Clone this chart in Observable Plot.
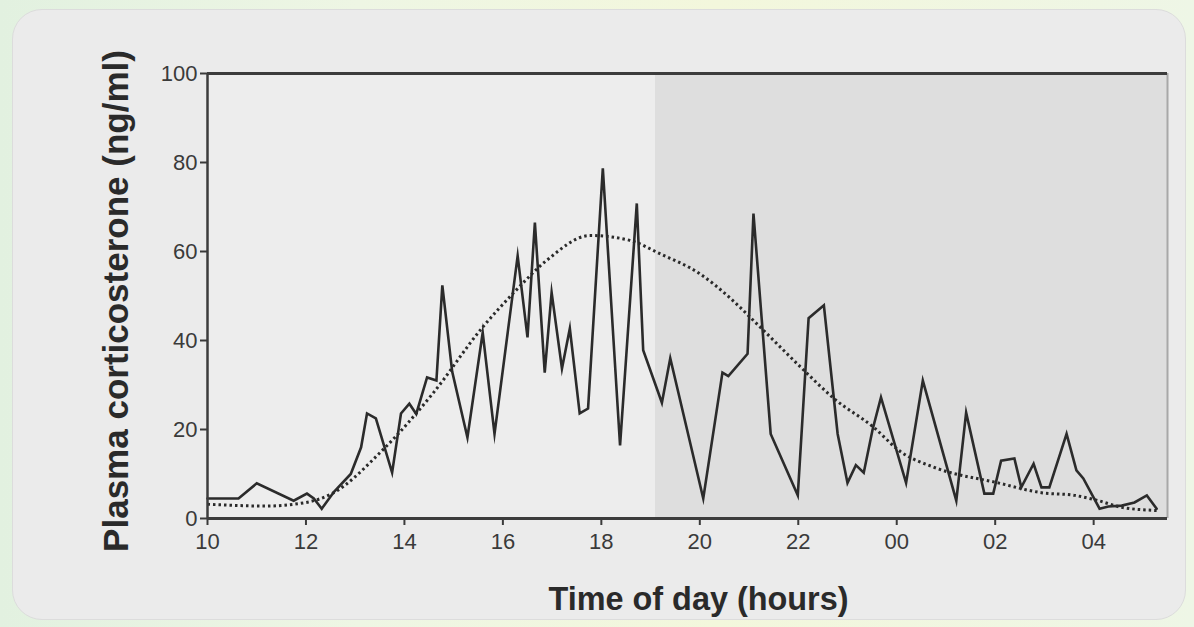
<!DOCTYPE html>
<html>
<head>
<meta charset="utf-8">
<script src="https://cdn.jsdelivr.net/npm/d3@7"></script>
<script src="https://cdn.jsdelivr.net/npm/@observablehq/plot@0.6"></script>
<style>
  html, body { margin: 0; padding: 0; width: 1194px; height: 627px; overflow: hidden; }
  body { background: linear-gradient(90deg, #e2f1e0 0%, #eef6e4 30%, #f3f7dc 60%, #eef6e6 100%); position: relative; }
  #panel { position: absolute; left: 12px; top: 9px; width: 1174px; height: 611px; background: #ebebeb; border-radius: 30px; border: 1px solid #dcdcdc; box-sizing: border-box; }
  #chart { position: absolute; left: 0; top: 0; }
</style>
</head>
<body>
<div id="panel"></div>
<div id="chart"></div>
<script>
// Time of day in hours (values past 24 are the next day), plasma corticosterone (ng/ml)
const sampleHours = [10.00,10.63,11.00,11.75,12.02,12.16,12.32,12.57,12.91,13.12,13.24,13.42,13.75,13.93,14.10,14.24,14.46,14.65,14.77,14.97,15.28,15.59,15.83,16.30,16.50,16.65,16.85,16.99,17.20,17.36,17.56,17.73,18.03,18.38,18.72,18.85,19.23,19.40,20.07,20.46,20.58,20.97,21.09,21.44,21.99,22.21,22.52,22.80,23.00,23.17,23.33,23.51,23.68,24.19,24.53,25.21,25.41,25.78,25.96,26.12,26.39,26.53,26.78,26.94,27.10,27.45,27.65,27.79,28.12,28.30,28.57,28.83,29.08,29.28];
const sampleValues = [4.5,4.5,7.9,4.0,5.6,4.5,2.2,6.0,10.0,16.0,23.6,22.5,10.3,23.6,25.8,23.5,31.7,31.0,52.4,33.0,18.2,41.8,19.0,59.0,40.7,66.5,32.8,50.8,33.7,42.7,23.6,24.7,78.7,16.4,70.8,37.8,26.0,36.0,4.5,32.8,32.0,37.0,68.5,19.0,5.2,45.0,47.9,19.0,8.0,12.0,10.3,20.0,27.2,8.0,31.0,4.0,23.8,5.6,5.6,13.0,13.5,7.0,12.3,7.0,7.0,19.0,10.8,9.0,2.2,2.7,2.9,3.6,5.2,2.2];

// Fitted (dotted) curve
const fitHours = [10.0,11.18,12.0,12.53,13.55,14.57,15.59,16.2,16.89,17.77,18.58,19.19,20.0,20.62,21.09,22.05,22.72,23.53,24.08,24.76,26.06,26.94,27.61,28.1,28.57,29.28];
const fitValues = [3.2,2.8,3.6,5.6,15.3,28,43,50.5,58,63.6,62.5,59.5,55,49.5,44.5,34,27,20.5,15,11.5,8,5.8,5.2,4,2.5,1.8];

// Light / dark phases
const phaseStart = [10, 19.1];
const phaseEnd = [19.1, 29.5];
const phaseFill = ["#ededed", "#dedede"];

const xTickValues = [10,12,14,16,18,20,22,24,26,28];
const xTickLabels = ["10","12","14","16","18","20","22","00","02","04"];
const yTickValues = [0,20,40,60,80,100];

const xLabel = "Time of day (hours)";
const yLabel = "Plasma corticosterone (ng/ml)";

const samples = sampleHours.map((h, i) => ({h, v: sampleValues[i]}));
const fit = fitHours.map((h, i) => ({h, v: fitValues[i]}));
const phases = phaseStart.map((s, i) => ({x1: s, x2: phaseEnd[i], y1: 0, y2: 100, fill: phaseFill[i]}));

const xMax = phaseEnd[1];

const chart = Plot.plot({
  width: 1194,
  height: 627,
  marginLeft: 207,
  marginRight: 27,
  marginTop: 73,
  marginBottom: 109,
  style: {background: "transparent", fontFamily: "'Liberation Sans',Arial,sans-serif", fontSize: "22px", color: "#3a3a3a"},
  x: {domain: [10, xMax], ticks: xTickValues, tickFormat: d => xTickLabels[xTickValues.indexOf(d)], label: null, tickSize: 7, tickPadding: 8},
  y: {domain: [0, 100], ticks: yTickValues, label: null, tickSize: 7, tickPadding: 3},
  marks: [
    Plot.rect(phases, {x1: "x1", x2: "x2", y1: "y1", y2: "y2", fill: "fill"}),
    Plot.line(fit, {x: "h", y: "v", curve: "monotone-x", stroke: "#2a2a2a", strokeWidth: 3, strokeDasharray: "2.5,3", strokeLinecap: "butt"}),
    Plot.line(samples, {x: "h", y: "v", stroke: "#2b2b2b", strokeWidth: 2.6, strokeLinejoin: "miter", strokeMiterlimit: 10}),
    Plot.ruleX([xMax], {stroke: "#a8a8a8", strokeWidth: 2}),
    Plot.ruleY([100], {stroke: "#3c3c3c", strokeWidth: 3}),
    Plot.ruleY([0], {stroke: "#3c3c3c", strokeWidth: 3}),
    Plot.ruleX([10], {stroke: "#3c3c3c", strokeWidth: 2.5}),
    Plot.text([yLabel], {text: d => d, frameAnchor: "left", textAnchor: "middle", lineAnchor: "middle", dx: -91, dy: 5, rotate: -90, fontSize: 35, fontWeight: "bold", fill: "#2a2a2a"}),
    Plot.text([xLabel], {text: d => d, frameAnchor: "bottom", textAnchor: "middle", lineAnchor: "middle", dx: 11, dy: 81, fontSize: 34, fontWeight: "bold", fill: "#2a2a2a"})
  ]
});
document.getElementById("chart").appendChild(chart);

// fit horizontal title length to the reference
chart.querySelectorAll("text").forEach(t => {
  if (t.textContent === xLabel) { t.setAttribute("textLength", 300); t.setAttribute("lengthAdjust", "spacingAndGlyphs"); }
});
chart.querySelectorAll('g[aria-label="x-axis tick"] path, g[aria-label="y-axis tick"] path').forEach(p => { p.setAttribute("stroke-width", "2"); });
</script>
</body>
</html>
